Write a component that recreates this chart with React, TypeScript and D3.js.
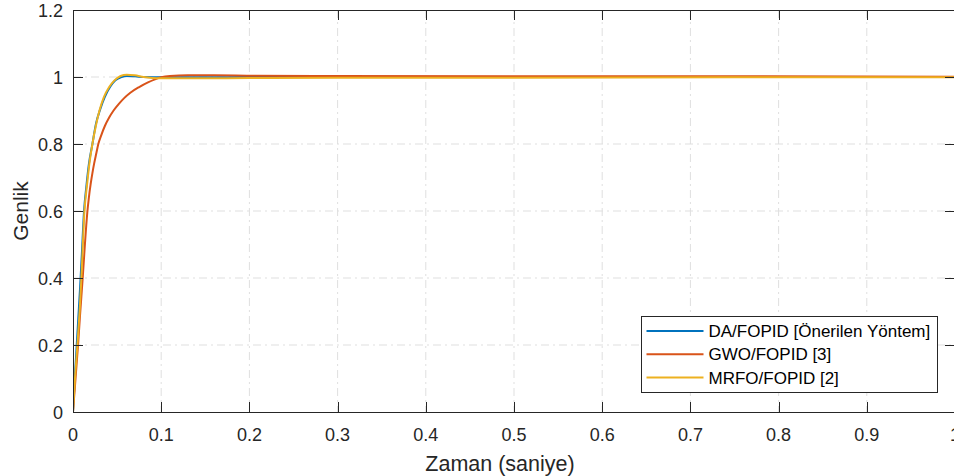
import * as d3 from "d3";
import { useEffect } from "react";

// step responses
const tDA = [0, 0.002, 0.004, 0.006, 0.008, 0.01, 0.0125, 0.015, 0.018, 0.022, 0.026, 0.031, 0.036, 0.042, 0.048, 0.055, 0.062, 0.07, 0.08, 0.1, 0.15, 0.2, 0.3, 0.5, 0.75, 1.0];
const yDA = [0, 0.1, 0.19, 0.28, 0.37, 0.47, 0.6, 0.67, 0.74, 0.8, 0.86, 0.905, 0.94, 0.97, 0.99, 1.0, 1.003, 1.002, 1.0, 0.999, 0.999, 1.0, 1.0, 1.0, 1.0, 1.0];

const tGWO = [0, 0.002, 0.004, 0.006, 0.008, 0.011, 0.0135, 0.0162, 0.018, 0.02, 0.022, 0.024, 0.0265, 0.0287, 0.032, 0.036, 0.041, 0.046, 0.052, 0.058, 0.065, 0.075, 0.085, 0.093, 0.1, 0.11, 0.13, 0.16, 0.2, 0.3, 0.5, 0.75, 1.0];
const yGWO = [0, 0.07, 0.14, 0.21, 0.29, 0.4, 0.5, 0.595, 0.64, 0.68, 0.713, 0.742, 0.773, 0.8, 0.826, 0.853, 0.879, 0.9, 0.92, 0.937, 0.953, 0.97, 0.984, 0.993, 0.999, 1.003, 1.005, 1.005, 1.004, 1.003, 1.002, 1.002, 1.001];

const tMRFO = [0, 0.002, 0.005, 0.0075, 0.0095, 0.013, 0.016, 0.019, 0.022, 0.026, 0.03, 0.035, 0.041, 0.047, 0.054, 0.061, 0.07, 0.08, 0.09, 0.1, 0.13, 0.2, 0.3, 0.5, 0.75, 1.0];
const yMRFO = [0, 0.09, 0.2, 0.3, 0.4, 0.6, 0.68, 0.75, 0.8, 0.855, 0.9, 0.94, 0.97, 0.99, 1.003, 1.007, 1.005, 1.0, 0.997, 0.996, 0.996, 0.997, 0.998, 0.998, 0.999, 0.999];

const seriesNames = ["DA/FOPID [Önerilen Yöntem]", "GWO/FOPID [3]", "MRFO/FOPID [2]"];
const seriesColors = ["#0072BD", "#D95319", "#EDB120"];
const xTicks = [0, 0.1, 0.2, 0.3, 0.4, 0.5, 0.6, 0.7, 0.8, 0.9, 1];
const yTicks = [0, 0.2, 0.4, 0.6, 0.8, 1, 1.2];

const width = 954;
const height = 476;
const marginLeft = 73;
const marginTop = 10;
const plotRight = 955;
const plotBottom = 412;
const font = "'Liberation Sans', Arial, Helvetica, sans-serif";
const axisColor = "#262626";

export default function App() {
  useEffect(() => {
    document.body.style.margin = "0";
  }, []);

  const x = d3.scaleLinear().domain([0, 1]).range([marginLeft, plotRight]);
  const y = d3.scaleLinear().domain([0, 1.2]).range([plotBottom, marginTop]);

  const line = d3
    .line<[number, number]>()
    .x((d) => x(d[0]))
    .y((d) => y(d[1]))
    .curve(d3.curveMonotoneX);

  const series = [
    d3.zip(tDA, yDA) as [number, number][],
    d3.zip(tGWO, yGWO) as [number, number][],
    d3.zip(tMRFO, yMRFO) as [number, number][],
  ];

  const legendX = 641.5;
  const legendY = 316.5;
  const legendW = 296;
  const legendH = 76;
  const rowH = 23.3;

  return (
    <svg width={width} height={height} style={{ display: "block" }} fontFamily={font}>
      <rect x={0} y={0} width={width} height={height} fill="#fff" />
      <defs>
        <clipPath id="plot">
          <rect x={marginLeft} y={marginTop} width={plotRight - marginLeft} height={plotBottom - marginTop} />
        </clipPath>
      </defs>
      {/* grid */}
      <g stroke="#dfdfdf" strokeWidth={1} strokeDasharray="8,4,2,4">
        {xTicks.slice(1).map((t) => (
          <line key={"gx" + t} x1={x(t)} x2={x(t)} y1={marginTop} y2={plotBottom} />
        ))}
        {yTicks.slice(1, -1).map((t) => (
          <line key={"gy" + t} x1={marginLeft} x2={plotRight} y1={y(t)} y2={y(t)} />
        ))}
      </g>
      {/* curves */}
      <g clipPath="url(#plot)" fill="none" strokeWidth={2} strokeLinejoin="round">
        {series.map((s, i) => (
          <path key={i} d={line(s) ?? ""} stroke={seriesColors[i]} />
        ))}
      </g>
      {/* box and ticks */}
      <g stroke={axisColor} strokeWidth={1} fill="none">
        <rect x={marginLeft + 0.5} y={marginTop + 0.5} width={plotRight - marginLeft} height={plotBottom - marginTop} />
        {xTicks.map((t) => (
          <g key={"tx" + t}>
            <line x1={Math.round(x(t)) + 0.5} x2={Math.round(x(t)) + 0.5} y1={plotBottom} y2={plotBottom - 10} />
            <line x1={Math.round(x(t)) + 0.5} x2={Math.round(x(t)) + 0.5} y1={marginTop} y2={marginTop + 10} />
          </g>
        ))}
        {yTicks.map((t) => (
          <g key={"ty" + t}>
            <line x1={marginLeft} x2={marginLeft + 10} y1={Math.round(y(t)) + 0.5} y2={Math.round(y(t)) + 0.5} />
            <line x1={plotRight} x2={plotRight - 10} y1={Math.round(y(t)) + 0.5} y2={Math.round(y(t)) + 0.5} />
          </g>
        ))}
      </g>
      {/* tick labels */}
      <g fill={axisColor} fontSize={18}>
        {xTicks.map((t) => (
          <text key={"lx" + t} x={x(t)} y={440.5} textAnchor="middle">
            {String(t)}
          </text>
        ))}
        {yTicks.map((t) => (
          <text key={"ly" + t} x={63} y={y(t) + 6.5} textAnchor="end">
            {String(t)}
          </text>
        ))}
      </g>
      {/* axis labels */}
      <text x={(marginLeft + plotRight) / 2 - 14} y={471} textAnchor="middle" fontSize={21.5} fill={axisColor}>
        Zaman (saniye)
      </text>
      <text
        transform={`translate(28, ${(marginTop + plotBottom) / 2}) rotate(-90)`}
        textAnchor="middle"
        fontSize={21}
        fill={axisColor}
      >
        Genlik
      </text>
      {/* legend */}
      <g>
        <rect x={legendX} y={legendY} width={legendW} height={legendH} fill="#fff" stroke={axisColor} strokeWidth={1} />
        {seriesNames.map((n, i) => (
          <g key={n} transform={`translate(${legendX}, ${legendY + 14.5 + i * rowH})`}>
            <line x1={5} x2={62} y1={0} y2={0} stroke={seriesColors[i]} strokeWidth={2} />
            <text x={67} y={6} fontSize={17} fill="#000">
              {n}
            </text>
          </g>
        ))}
      </g>
    </svg>
  );
}
